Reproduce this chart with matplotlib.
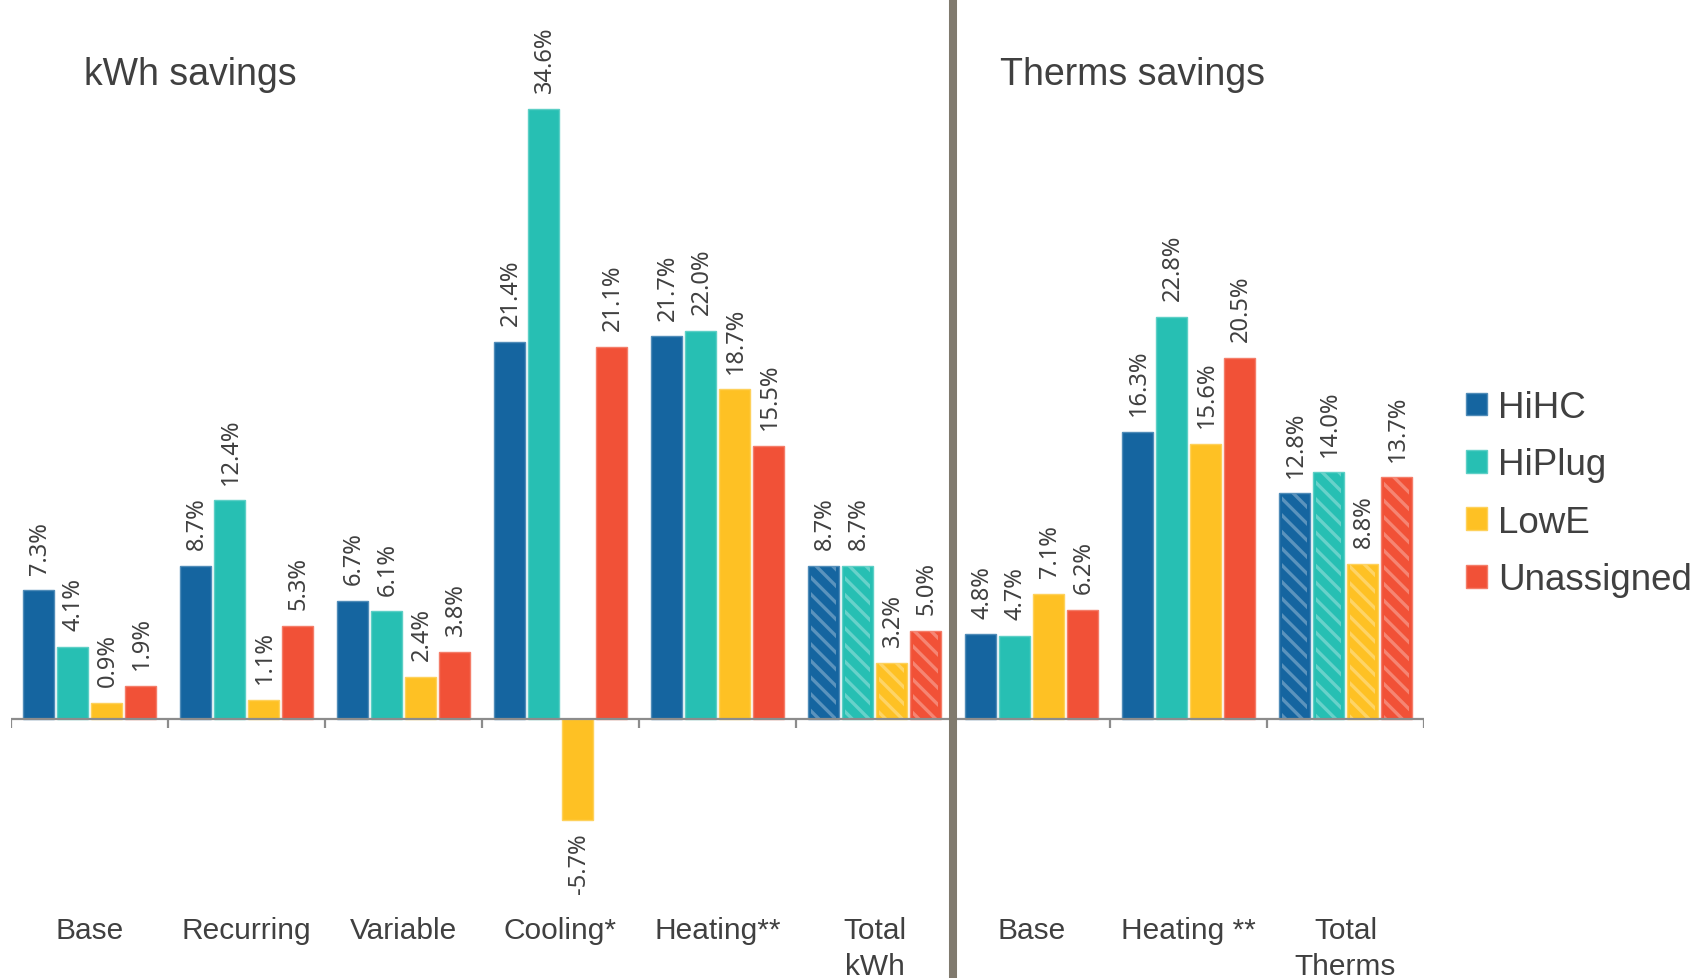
import matplotlib
matplotlib.use("Agg")
import matplotlib.pyplot as plt
from matplotlib.colors import to_rgb
import numpy as np

# ---- data -------------------------------------------------------------
categories = ["Base", "Recurring", "Variable", "Cooling*", "Heating**",
              "Total\nkWh", "Base", "Heating **", "Total\nTherms"]
series = ["HiHC", "HiPlug", "LowE", "Unassigned"]
hihc = [7.3, 8.7, 6.7, 21.4, 21.7, 8.7, 4.8, 16.3, 12.8]
hiplug = [4.1, 12.4, 6.1, 34.6, 22.0, 8.7, 4.7, 22.8, 14.0]
lowe = [0.9, 1.1, 2.4, -5.7, 18.7, 3.2, 7.1, 15.6, 8.8]
unassigned = [1.9, 5.3, 3.8, 21.1, 15.5, 5.0, 6.2, 20.5, 13.7]
total_groups = [5, 8]          # indices of the hatched "total" groups
section_titles = ["kWh savings", "Therms savings"]

colors = ["#1565a0", "#27bfb3", "#fec124", "#f15137"]
text_color = "#404040"
label_font = ["Liberation Sans", "DejaVu Sans"]
value_font = ["Noto Sans", "DejaVu Sans"]

plt.rcParams["hatch.linewidth"] = 2.4


def tint(c, f):
    r, g, b = to_rgb(c)
    return (r + (1 - r) * f, g + (1 - g) * f, b + (1 - b) * f)


fig = plt.figure(figsize=(17.03, 9.79), dpi=100)
ax = fig.add_axes([0.0064, 0.0, 0.8298, 1.0])
ax.set_xlim(-0.5, 8.5)
ax.set_ylim(-14.69, 40.84)
ax.axis("off")

x = np.arange(len(categories))
values = [hihc, hiplug, lowe, unassigned]
step = 0.216
width = 0.20

for i, (name, vals, col) in enumerate(zip(series, values, colors)):
    xs = x + (i - 1.5) * step
    ax.bar(xs, vals, width, color=col, edgecolor=tint(col, 0.25),
           linewidth=1.0, zorder=2, label=name)
    # hatched overlay on the total groups
    tx = xs[total_groups]
    tv = np.array(vals)[total_groups]
    ax.bar(tx, tv, width * 0.78, facecolor="none", edgecolor=tint(col, 0.3),
           linewidth=0, hatch="\\\\", zorder=3)
    for xi, v in zip(xs, vals):
        ax.annotate(f"{v:.1f}%", (xi, v), xytext=(1, 12 if v >= 0 else -9),
                    textcoords="offset points", rotation=90,
                    ha="center", va="bottom" if v >= 0 else "top",
                    fontsize=17, color=text_color, family=value_font)

# baseline and group separators
bounds = np.arange(-0.5, len(categories) + 0.5, 1.0)
ax.plot([bounds[0], bounds[-1]], [0, 0], color="#8c8c8c", lw=1.6, zorder=5,
        solid_capstyle="butt")
ax.vlines(bounds, -0.52, 0, color="#8c8c8c", lw=1.6, zorder=5)

# divider between the kWh and therms sections
ax.axvline(5.5, ymin=0, ymax=1 - 4 / 979, color="#807a6e", lw=5.8, zorder=6)

# category labels
for xi, c in zip(x, categories):
    ax.text(xi, -11.2, c, ha="center", va="top", fontsize=21.5,
            color=text_color, family=label_font, linespacing=1.33)

# section titles
fig.text(84 / 1703, 1 - 75 / 979, section_titles[0], ha="left", va="center",
         fontsize=27, color=text_color, family=label_font)
fig.text(1000 / 1703, 1 - 75 / 979, section_titles[1], ha="left", va="center",
         fontsize=27, color=text_color, family=label_font)

leg = fig.legend(loc="upper left", bbox_to_anchor=(1466 / 1703, 1 - 391 / 979),
                 frameon=False, handlelength=0.58,
                 handleheight=0.58, handletextpad=0.28, labelspacing=0.61,
                 borderpad=0, borderaxespad=0,
                 prop={"family": label_font, "size": 26.5})
for t in leg.get_texts():
    t.set_color(text_color)

fig.savefig("out.png", dpi=100, facecolor="white")
